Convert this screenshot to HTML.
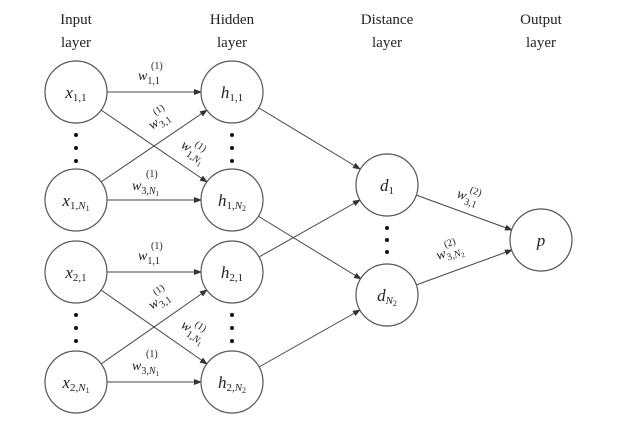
<!DOCTYPE html>
<html><head><meta charset="utf-8"><style>
html,body{margin:0;padding:0;background:#fff}
svg{display:block}
text{font-family:"Liberation Serif",serif;fill:#222}
.m{font-style:italic}
</style></head><body>
<svg width="618" height="432" viewBox="0 0 618 432" xmlns="http://www.w3.org/2000/svg">
<defs><marker id="a" markerWidth="8" markerHeight="6" refX="7" refY="3" orient="auto" markerUnits="userSpaceOnUse"><path d="M0,0 L8,3 L0,6 Z" fill="#333"/></marker></defs>
<g font-size="15" text-anchor="middle">
<text x="76" y="24">Input</text><text x="76" y="47">layer</text>
<text x="232" y="24">Hidden</text><text x="232" y="47">layer</text>
<text x="387" y="24">Distance</text><text x="387" y="47">layer</text>
<text x="541" y="24">Output</text><text x="541" y="47">layer</text>
</g>
<g stroke="#444" stroke-width="1" fill="none" marker-end="url(#a)">
<line x1="107" y1="92" x2="201" y2="92"/>
<line x1="101" y1="110" x2="207" y2="182"/>
<line x1="101" y1="182" x2="207" y2="110"/>
<line x1="107" y1="200" x2="201" y2="200"/>
<line x1="107" y1="272" x2="201" y2="272"/>
<line x1="101" y1="290" x2="207" y2="364"/>
<line x1="101" y1="364" x2="207" y2="290"/>
<line x1="107" y1="382" x2="201" y2="382"/>
<line x1="259" y1="108" x2="360" y2="169"/>
<line x1="258" y1="216" x2="361" y2="279"/>
<line x1="259" y1="257" x2="360" y2="200"/>
<line x1="259" y1="367" x2="360" y2="310"/>
<line x1="416" y1="195" x2="512" y2="230"/>
<line x1="416" y1="285" x2="512" y2="250"/>
</g>
<g stroke="#555" stroke-width="1.2" fill="#fff">
<circle cx="76" cy="92" r="31"/><circle cx="232" cy="92" r="31"/>
<circle cx="76" cy="200" r="31"/><circle cx="232" cy="200" r="31"/>
<circle cx="76" cy="272" r="31"/><circle cx="232" cy="272" r="31"/>
<circle cx="76" cy="382" r="31"/><circle cx="232" cy="382" r="31"/>
<circle cx="387" cy="185" r="31"/><circle cx="387" cy="295" r="31"/>
<circle cx="541" cy="240" r="31"/>
</g>
<g fill="#111">
<circle cx="76" cy="135" r="2"/><circle cx="76" cy="148" r="2"/><circle cx="76" cy="161" r="2"/>
<circle cx="232" cy="135" r="2"/><circle cx="232" cy="148" r="2"/><circle cx="232" cy="161" r="2"/>
<circle cx="76" cy="315" r="2"/><circle cx="76" cy="328" r="2"/><circle cx="76" cy="341" r="2"/>
<circle cx="232" cy="315" r="2"/><circle cx="232" cy="328" r="2"/><circle cx="232" cy="341" r="2"/>
<circle cx="387" cy="228" r="2"/><circle cx="387" cy="240" r="2"/><circle cx="387" cy="252" r="2"/>
</g>
<g font-size="17" text-anchor="middle">
<text x="76" y="98"><tspan class="m">x</tspan><tspan font-size="11" dy="3">1,1</tspan></text>
<text x="76" y="206"><tspan class="m">x</tspan><tspan font-size="11" dy="3">1,</tspan><tspan font-size="11" class="m">N</tspan><tspan font-size="8" dy="2">1</tspan></text>
<text x="76" y="278"><tspan class="m">x</tspan><tspan font-size="11" dy="3">2,1</tspan></text>
<text x="76" y="388"><tspan class="m">x</tspan><tspan font-size="11" dy="3">2,</tspan><tspan font-size="11" class="m">N</tspan><tspan font-size="8" dy="2">1</tspan></text>
<text x="232" y="98"><tspan class="m">h</tspan><tspan font-size="11" dy="3">1,1</tspan></text>
<text x="232" y="206"><tspan class="m">h</tspan><tspan font-size="11" dy="3">1,</tspan><tspan font-size="11" class="m">N</tspan><tspan font-size="8" dy="2">2</tspan></text>
<text x="232" y="278"><tspan class="m">h</tspan><tspan font-size="11" dy="3">2,1</tspan></text>
<text x="232" y="388"><tspan class="m">h</tspan><tspan font-size="11" dy="3">2,</tspan><tspan font-size="11" class="m">N</tspan><tspan font-size="8" dy="2">2</tspan></text>
<text x="387" y="191"><tspan class="m">d</tspan><tspan font-size="11" dy="3">1</tspan></text>
<text x="387" y="301"><tspan class="m">d</tspan><tspan font-size="11" class="m" dy="3">N</tspan><tspan font-size="8" dy="2">2</tspan></text>
<text x="541" y="246" class="m">p</text>
</g>
<g font-size="14">
<g id="w1"><text x="138" y="80"><tspan class="m">w</tspan><tspan font-size="10" dy="4">1,1</tspan></text><text x="151" y="69" font-size="10">(1)</text></g>
<text x="132" y="190"><tspan class="m">w</tspan><tspan font-size="10" dy="4">3,</tspan><tspan font-size="10" class="m">N</tspan><tspan font-size="7" dy="2">1</tspan></text><text x="146" y="177" font-size="10">(1)</text>
<text x="138" y="260"><tspan class="m">w</tspan><tspan font-size="10" dy="4">1,1</tspan></text><text x="151" y="249" font-size="10">(1)</text>
<text x="132" y="370"><tspan class="m">w</tspan><tspan font-size="10" dy="4">3,</tspan><tspan font-size="10" class="m">N</tspan><tspan font-size="7" dy="2">1</tspan></text><text x="146" y="357" font-size="10">(1)</text>
<g transform="translate(152,130) rotate(-34)"><text x="0" y="0"><tspan class="m">w</tspan><tspan font-size="10" dy="4">3,1</tspan></text><text x="11" y="-10" font-size="10">(1)</text></g>
<g transform="translate(152,310) rotate(-34)"><text x="0" y="0"><tspan class="m">w</tspan><tspan font-size="10" dy="4">3,1</tspan></text><text x="11" y="-10" font-size="10">(1)</text></g>
<g transform="translate(180,147) rotate(34)"><text x="0" y="0"><tspan class="m">w</tspan><tspan font-size="10" dy="4">1,</tspan><tspan font-size="10" class="m">N</tspan><tspan font-size="7" dy="2">1</tspan></text><text x="11" y="-9" font-size="10">(1)</text></g>
<g transform="translate(180,327) rotate(34)"><text x="0" y="0"><tspan class="m">w</tspan><tspan font-size="10" dy="4">1,</tspan><tspan font-size="10" class="m">N</tspan><tspan font-size="7" dy="2">1</tspan></text><text x="11" y="-9" font-size="10">(1)</text></g>
<g transform="translate(456,197) rotate(20)"><text x="0" y="0"><tspan class="m">w</tspan><tspan font-size="10" dy="4">3,1</tspan></text><text x="11" y="-9" font-size="10">(2)</text></g>
<g transform="translate(438,260) rotate(-20)"><text x="0" y="0"><tspan class="m">w</tspan><tspan font-size="10" dy="4">3,</tspan><tspan font-size="10" class="m">N</tspan><tspan font-size="7" dy="2">2</tspan></text><text x="11" y="-9" font-size="10">(2)</text></g>
</g>
</svg>
</body></html>
